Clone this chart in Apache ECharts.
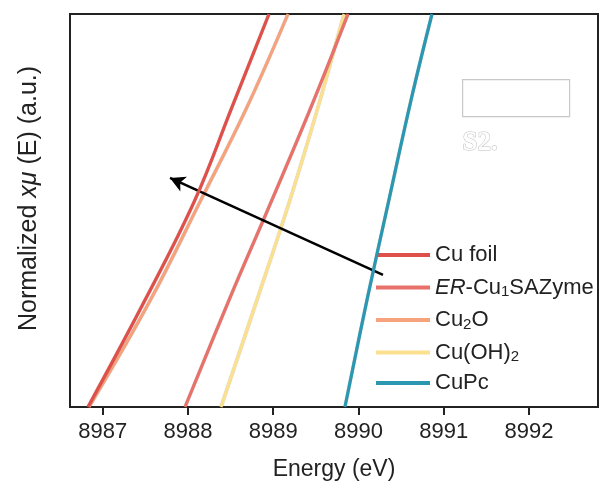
<!DOCTYPE html>
<html>
<head>
<meta charset="utf-8">
<script src="https://cdn.jsdelivr.net/npm/echarts@6/dist/echarts.min.js"></script>
<style>
  html, body { margin: 0; padding: 0; background: #fff; }
  #main { width: 602px; height: 488px; }
</style>
</head>
<body>
<div id="main"></div>
<script>
// series data [energy (eV), normalized xmu]
const cuFoil = [[8986.828, 0], [8987.497, 0.272], [8988.083, 0.527], [8988.517, 0.763], [8988.951, 1]];
const erCu1 = [[8987.966, 0], [8988.482, 0.272], [8988.986, 0.527], [8989.444, 0.763], [8989.878, 1]];
const cu2o = [[8986.840, 0], [8987.560, 0.272], [8988.153, 0.527], [8988.693, 0.763], [8989.174, 1]];
const cuOH2 = [[8988.388, 0], [8988.810, 0.272], [8989.197, 0.527], [8989.526, 0.763], [8989.831, 1]];
const cuPc = [[8989.842, 0], [8990.100, 0.272], [8990.358, 0.527], [8990.617, 0.781], [8990.863, 1]];

const seriesNames = ['Cu foil', 'ER-Cu1SAZyme', 'Cu2O', 'Cu(OH)2', 'CuPc'];
const seriesColors = ['#e0504a', '#e8716a', '#f5a27d', '#fbe08f', '#2b97b0'];
const xTicks = [8987, 8988, 8989, 8990, 8991, 8992];

// arrow from [x, y] to [x, y]
const arrowFrom = [8990.288, 0.336];
const arrowTo = [8987.79, 0.583];

const legendLabels = {
  'Cu foil': 'Cu foil',
  'ER-Cu1SAZyme': '{i|ER}-Cu{sub|1}SAZyme',
  'Cu2O': 'Cu{sub|2}O',
  'Cu(OH)2': 'Cu(OH){sub|2}',
  'CuPc': 'CuPc',
};

const font = '"Liberation Sans", Arial, sans-serif';

const myChart = echarts.init(document.getElementById('main'));

const dataSets = [cuFoil, erCu1, cu2o, cuOH2, cuPc];
// draw order: Cu(OH)2 under, foil on top
const drawOrder = [3, 2, 1, 4, 0];

const chartSeries = drawOrder.map((i) => ({
  name: seriesNames[i],
  type: 'line',
  data: dataSets[i],
  smooth: 0.4,
  symbol: 'none',
  clip: true,
  z: 2 + drawOrder.indexOf(i),
  lineStyle: {
    color: seriesColors[i],
    width: 3.2,
    shadowColor: 'rgba(0,0,0,0.25)',
    shadowBlur: 1,
  },
  itemStyle: { color: seriesColors[i] },
}));

const arrowSeries = {
  name: 'arrow',
  type: 'line',
  data: [],
  silent: true,
  z: 10,
  markLine: {
    silent: true,
    symbol: ['none', 'arrow'],
    symbolSize: [12, 15],
    label: { show: false },
    lineStyle: { color: '#000', width: 2.5, type: 'solid' },
    data: [[{ coord: arrowFrom }, { coord: arrowTo }]],
  },
};

const option = {
  animation: false,
  backgroundColor: '#fff',
  grid: {
    left: 70,
    top: 14,
    right: 4,
    bottom: 81,
    show: true,
    borderColor: '#222',
    borderWidth: 2,
  },
  legend: {
    data: seriesNames,
    orient: 'vertical',
    left: 376,
    top: 243,
    padding: 0,
    icon: 'rect',
    itemWidth: 54,
    itemHeight: 4,
    itemGap: 6.5,
    formatter: (name) => legendLabels[name],
    textStyle: {
      fontFamily: font,
      fontSize: 22,
      color: '#222',
      lineHeight: 24,
      rich: {
        i: { fontFamily: font, fontSize: 22, fontStyle: 'italic', color: '#222', lineHeight: 24 },
        sub: { fontFamily: font, fontSize: 15, color: '#222', verticalAlign: 'bottom', lineHeight: 24, padding: [11, 0, 0, 0] },
      },
    },
  },
  xAxis: {
    type: 'value',
    min: 8986.617,
    max: 8992.81,
    name: 'Energy (eV)',
    nameLocation: 'middle',
    nameGap: 51,
    nameTextStyle: { fontFamily: font, fontSize: 23, color: '#222' },
    axisLine: { lineStyle: { color: '#222', width: 2 } },
    axisTick: { show: true, length: 8, lineStyle: { color: '#222', width: 2 }, customValues: xTicks },
    axisLabel: {
      fontFamily: font,
      fontSize: 22,
      color: '#222',
      margin: 14,
      customValues: xTicks,
      formatter: (v) => String(Math.round(v)),
    },
    splitLine: { show: false },
  },
  yAxis: {
    type: 'value',
    min: 0,
    max: 1,
    name: '{n|Normalized }{i|xμ}{n| (E) (a.u.)}',
    nameLocation: 'middle',
    nameGap: 28,
    nameTextStyle: {
      padding: [0, 0, 0, 24],
      rich: {
        n: { fontFamily: font, fontSize: 25, color: '#222' },
        i: { fontFamily: font, fontSize: 25, color: '#222', fontStyle: 'italic' },
      },
    },
    axisLine: { show: true, lineStyle: { color: '#222', width: 2 } },
    axisTick: { show: false },
    axisLabel: { show: false },
    splitLine: { show: false },
  },
  graphic: [
    {
      type: 'rect',
      left: 462,
      top: 79,
      shape: { width: 107, height: 37 },
      style: { fill: '#fff', stroke: '#c8c8c8', lineWidth: 1.2 },
      silent: true,
    },
    {
      type: 'text',
      left: 462,
      top: 129,
      style: {
        text: 'S2.',
        font: 'bold 27px "Liberation Serif", serif',
        fill: '#fff',
        stroke: '#c0c0c0',
        lineWidth: 1,
      },
      silent: true,
    },
  ],
  series: [...chartSeries, arrowSeries],
};

myChart.setOption(option);
</script>
</body>
</html>
